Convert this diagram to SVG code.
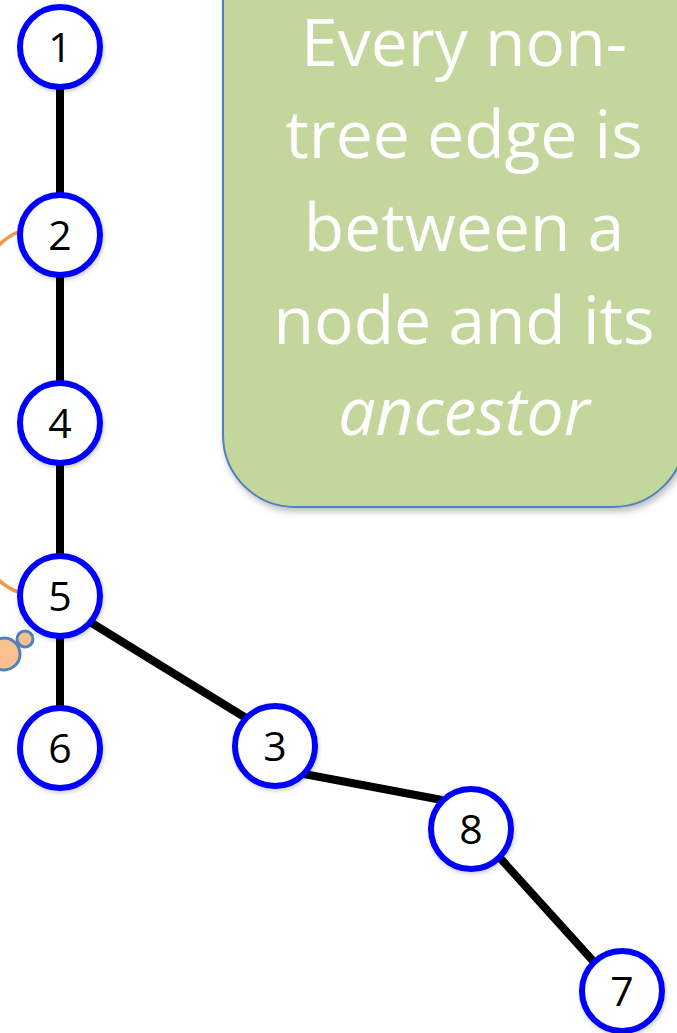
<svg xmlns="http://www.w3.org/2000/svg" width="677" height="1033" viewBox="0 0 677 1033">
  <defs>
    <filter id="shadow" x="-20%" y="-20%" width="140%" height="140%">
      <feDropShadow dx="2" dy="4" stdDeviation="3" flood-color="#000" flood-opacity="0.25"/>
    </filter>
    <filter id="nodeShadow" x="-30%" y="-30%" width="160%" height="160%">
      <feDropShadow dx="1" dy="2" stdDeviation="2" flood-color="#000" flood-opacity="0.2"/>
    </filter>
  </defs>
  <style>
    .edge { stroke: #000; stroke-width: 8; fill: none; }
    .back { stroke: #F79646; stroke-width: 3.5; fill: none; }
    .node circle { fill: #fff; stroke: #0000FF; stroke-width: 6; filter: url(#nodeShadow); }
    .node text { font-family: "Open Sans", "Liberation Sans", sans-serif; font-size: 41px; fill: #000; text-anchor: middle; }
    .bubble { fill: #FAC090; stroke: #4F81BD; stroke-width: 3; }
    .note { font-family: "Open Sans", "Liberation Sans", sans-serif; font-size: 66px; fill: #fff; text-anchor: middle; }
  </style>

  <!-- callout box -->
  <g id="callout">
    <rect x="223" y="-80" width="462" height="587" rx="72" ry="72" fill="#C3D69B" stroke="#4F81BD" stroke-width="2" filter="url(#shadow)"/>
    <text class="note" x="464" y="66">Every non-</text>
    <text class="note" x="464" y="158">tree edge is</text>
    <text class="note" x="464" y="251">between a</text>
    <text class="note" x="464" y="344">node and its</text>
    <text class="note" x="464" y="435" font-style="italic">ancestor</text>
  </g>

  <!-- thought bubbles -->
  <g id="bubbles">
    <circle class="bubble" cx="4" cy="654" r="16"/>
    <circle class="bubble" cx="25" cy="639" r="8"/>
  </g>

  <!-- tree edges and the back edge -->
  <g id="connectors">
    <path class="back" d="M 18 232 C -70 270, -70 560, 18 592"/>
    <line class="edge" x1="60" y1="88" x2="60" y2="194"/>
    <line class="edge" x1="60" y1="276" x2="60" y2="382"/>
    <line class="edge" x1="60" y1="464" x2="60" y2="556"/>
    <line class="edge" x1="60" y1="636" x2="60" y2="708"/>
    <line class="edge" x1="90" y1="622" x2="246" y2="718"/>
    <line class="edge" x1="304" y1="774" x2="442" y2="800"/>
    <line class="edge" x1="500" y1="858" x2="594" y2="962"/>
  </g>

  <g id="node1" class="node"><circle cx="60" cy="47" r="40"/><text x="60" y="62">1</text></g>
  <g id="node2" class="node"><circle cx="60" cy="235" r="40"/><text x="60" y="250">2</text></g>
  <g id="node4" class="node"><circle cx="60" cy="423" r="40"/><text x="60" y="438">4</text></g>
  <g id="node5" class="node"><circle cx="60" cy="596" r="40"/><text x="60" y="611">5</text></g>
  <g id="node6" class="node"><circle cx="60" cy="748" r="40"/><text x="60" y="763">6</text></g>
  <g id="node3" class="node"><circle cx="275" cy="746" r="40"/><text x="275" y="761">3</text></g>
  <g id="node8" class="node"><circle cx="471" cy="829" r="40"/><text x="471" y="844">8</text></g>
  <g id="node7" class="node"><circle cx="622" cy="991" r="40"/><text x="622" y="1006">7</text></g>
</svg>
